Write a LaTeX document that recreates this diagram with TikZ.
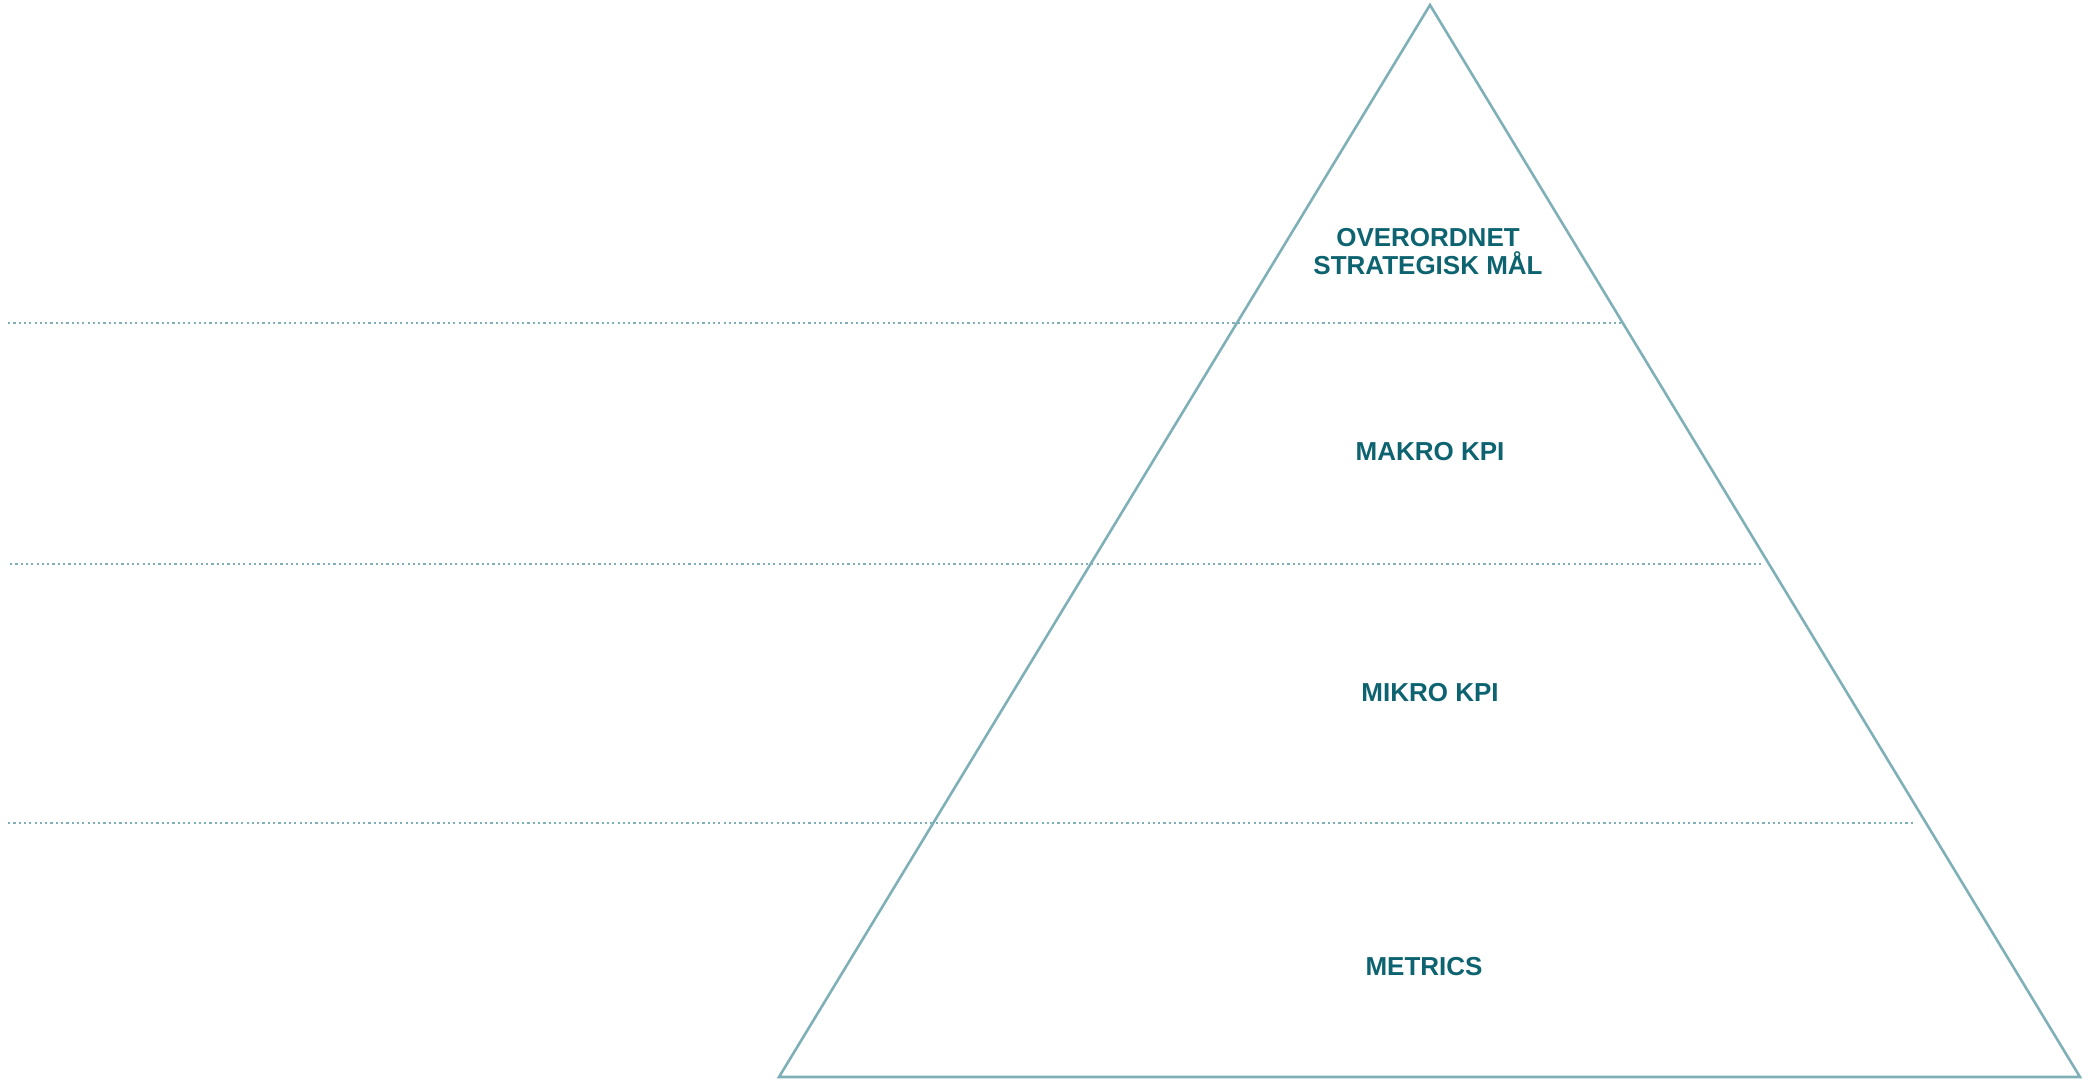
\documentclass[tikz,border=0pt]{standalone}
\usepackage{fontspec}
\setmainfont{Liberation Sans}
\definecolor{edge}{HTML}{7FB0B8}
\definecolor{label}{HTML}{0D6470}
\begin{document}
\begin{tikzpicture}[x=1pt,y=-1pt,
  tri/.style={draw=edge,line width=2.6pt,line join=miter},
  guide/.style={draw=edge,line width=2.2pt,dash pattern=on 2.2pt off 3.1pt},
  lvl/.style={text=label,font=\bfseries\fontsize{26}{28}\selectfont,align=center,inner sep=0pt}]
\useasboundingbox (0,0) rectangle (2088,1081);
\coordinate (apex) at (1430,5);
\coordinate (bl) at (779,1077);
\coordinate (br) at (2080,1077);
\draw[tri] (apex) -- (bl) -- (br) -- cycle;
\coordinate (g1a) at (8,323);   \coordinate (g1b) at (1624,323);
\coordinate (g2a) at (10,564);  \coordinate (g2b) at (1764,564);
\coordinate (g3a) at (8,823);   \coordinate (g3b) at (1914,823);
\draw[guide] (g1a) -- (g1b);
\draw[guide] (g2a) -- (g2b);
\draw[guide] (g3a) -- (g3b);
\node[lvl] (top) at (1428,252) {OVERORDNET\\STRATEGISK MÅL};
\node[lvl] (makro) at (1430,452) {MAKRO KPI};
\node[lvl] (mikro) at (1430,693) {MIKRO KPI};
\node[lvl] (metrics) at (1424,967) {METRICS};
\end{tikzpicture}
\end{document}
